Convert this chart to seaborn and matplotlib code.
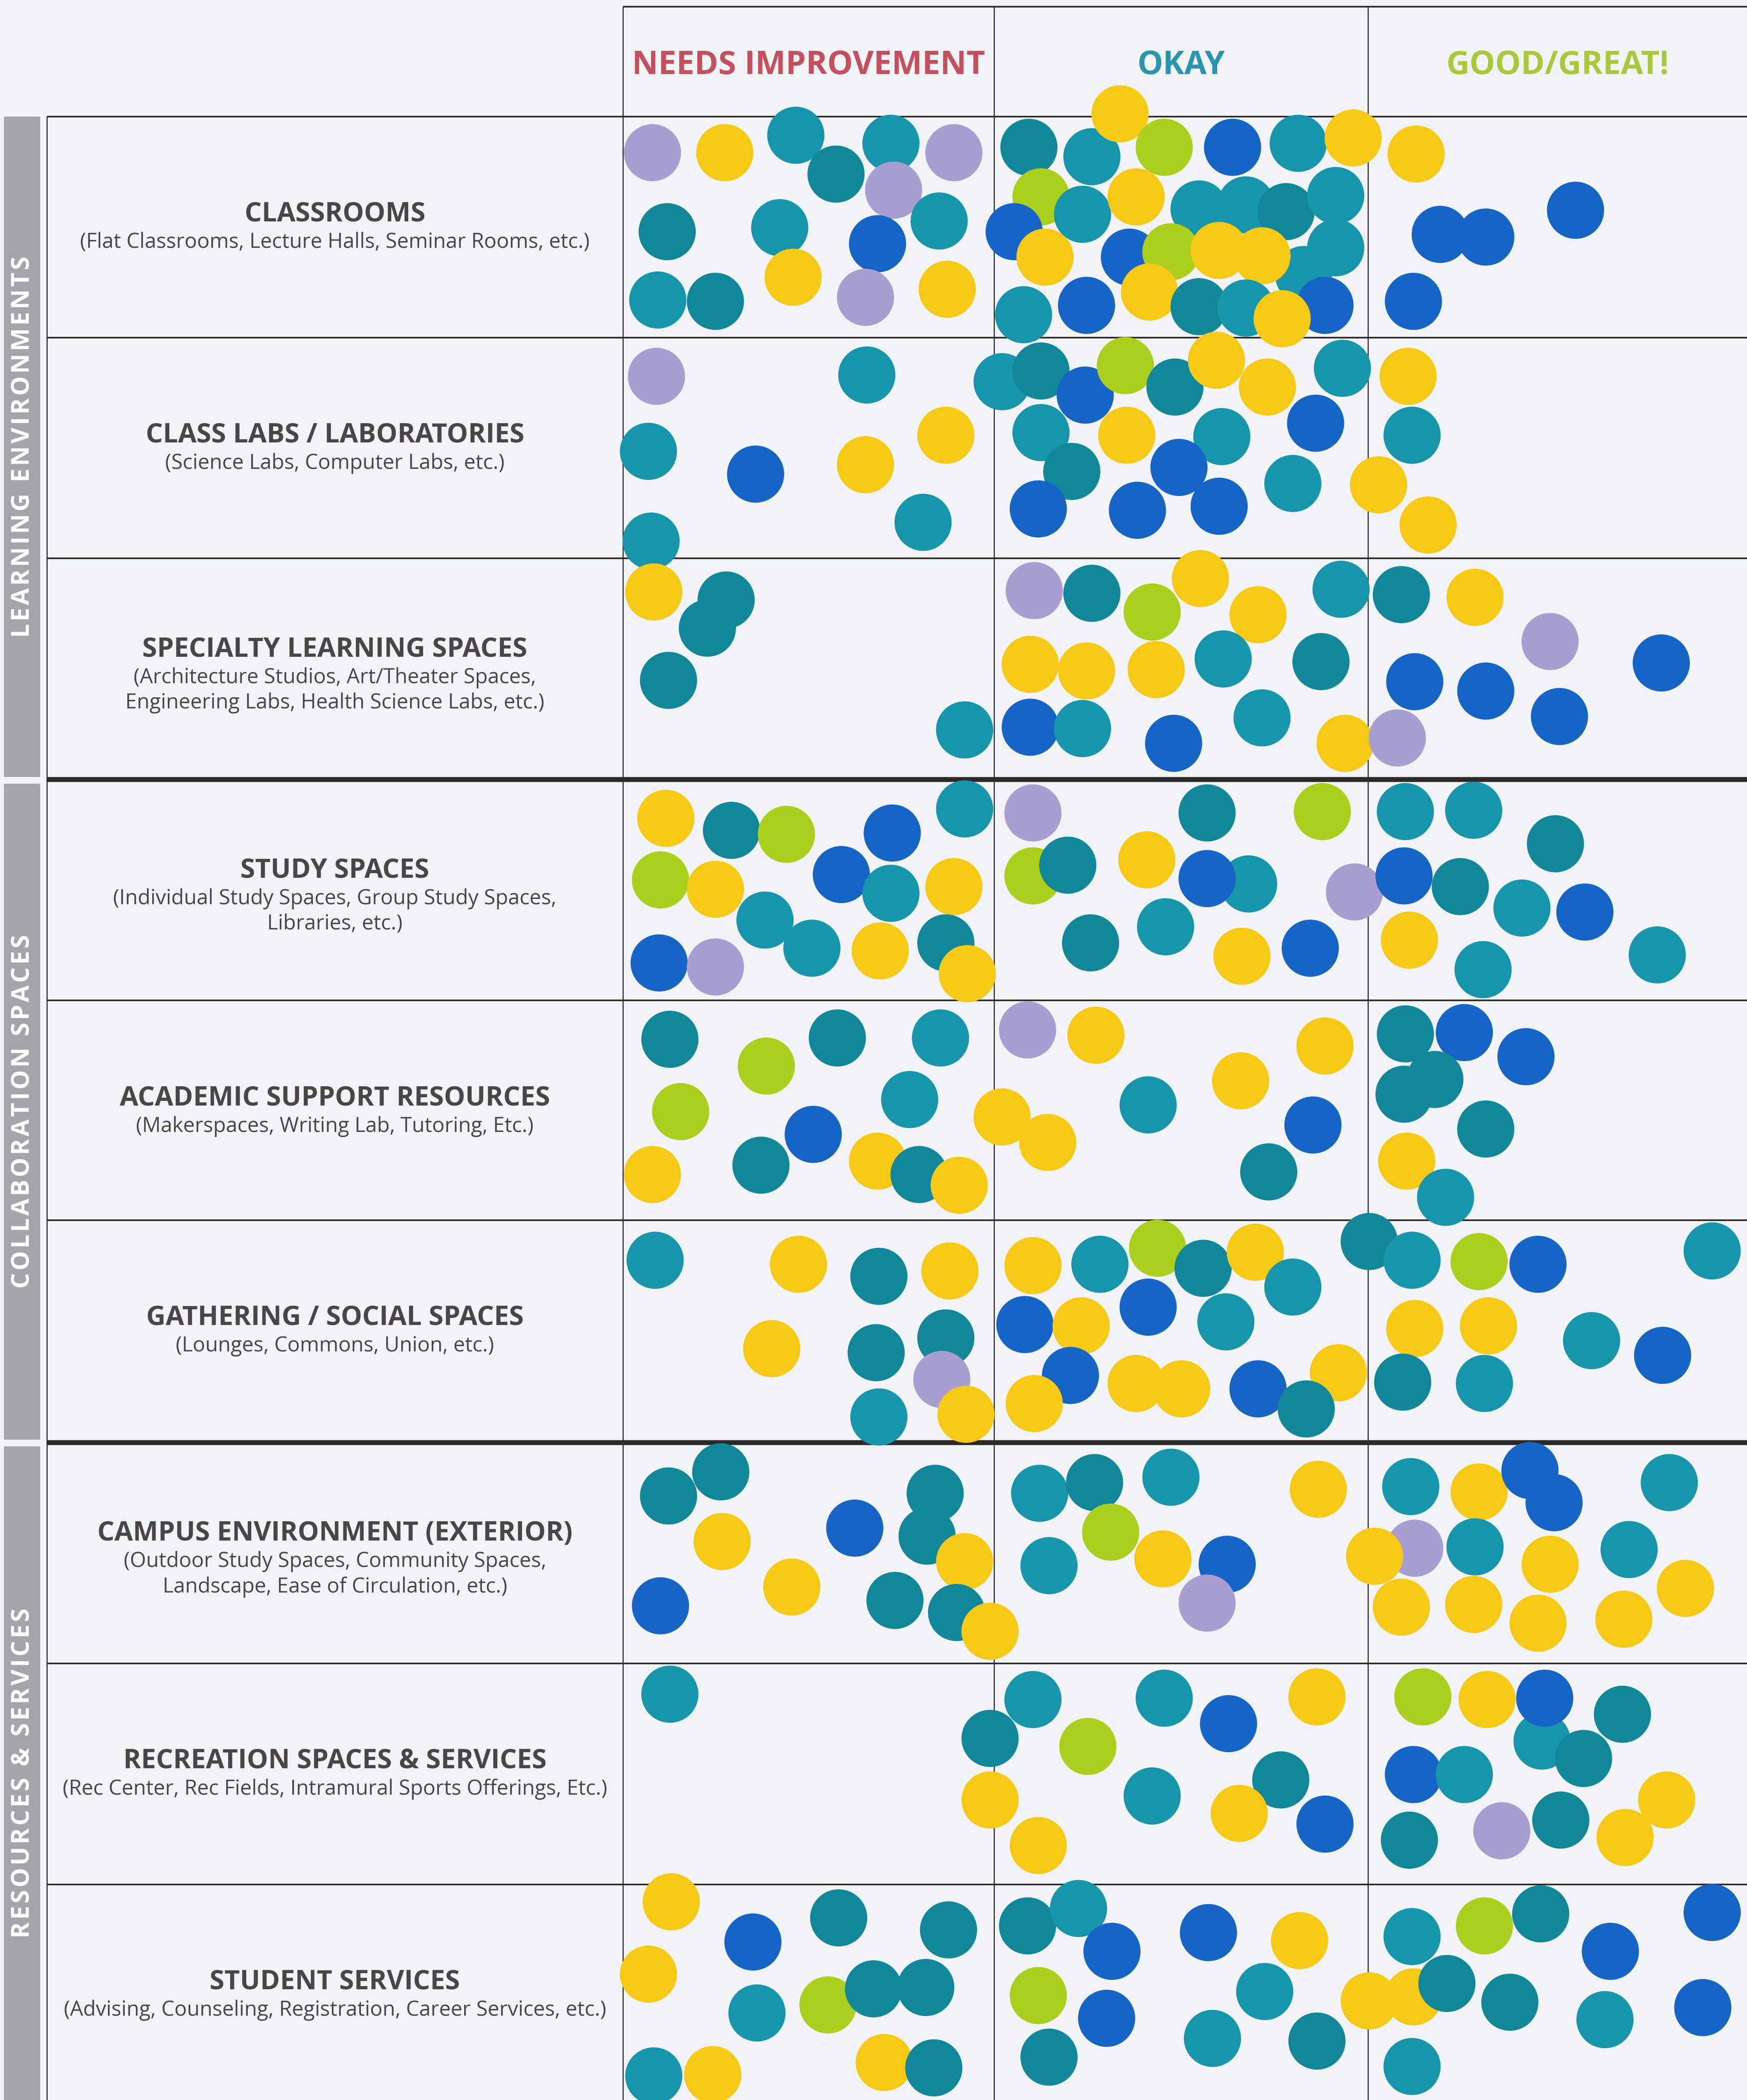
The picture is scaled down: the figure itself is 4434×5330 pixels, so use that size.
import pandas as pd
import matplotlib.pyplot as plt
import seaborn as sns

# Board coordinates follow the scanned poster (1304 x 1568 board units, y grows downward)
COLUMNS = ["NEEDS IMPROVEMENT", "OKAY", "GOOD/GREAT!"]
COLUMN_COLORS = ["#C4505F", "#2A95AE", "#A9C93D"]

ROW_TITLES = [
    "CLASSROOMS", "CLASS LABS / LABORATORIES", "SPECIALTY LEARNING SPACES",
    "STUDY SPACES", "ACADEMIC SUPPORT RESOURCES", "GATHERING / SOCIAL SPACES",
    "CAMPUS ENVIRONMENT (EXTERIOR)", "RECREATION SPACES & SERVICES", "STUDENT SERVICES",
]
ROW_SUBTITLES = [
    ["(Flat Classrooms, Lecture Halls, Seminar Rooms, etc.)"],
    ["(Science Labs, Computer Labs, etc.)"],
    ["(Architecture Studios, Art/Theater Spaces,", "Engineering Labs, Health Science Labs, etc.)"],
    ["(Individual Study Spaces, Group Study Spaces,", "Libraries, etc.)"],
    ["(Makerspaces, Writing Lab, Tutoring, Etc.)"],
    ["(Lounges, Commons, Union, etc.)"],
    ["(Outdoor Study Spaces, Community Spaces,", "Landscape, Ease of Circulation, etc.)"],
    ["(Rec Center, Rec Fields, Intramural Sports Offerings, Etc.)"],
    ["(Advising, Counseling, Registration, Career Services, etc.)"],
]
GROUPS = ["LEARNING ENVIRONMENTS", "COLLABORATION SPACES", "RESOURCES & SERVICES"]

# sticker colours
PALETTE = {
    "purple": "#A99ED2",
    "yellow": "#F6C916",
    "teal": "#1795AB",
    "dteal": "#12879A",
    "blue": "#1664C6",
    "lime": "#ABCF1D",
}

# dot stickers, per row: (colour, x, y) in board units
CLASSROOMS = [
    ("purple", 487, 114), ("yellow", 541, 114), ("teal", 594, 101), ("dteal", 624, 130),
    ("teal", 665, 107), ("purple", 712, 114), ("purple", 667, 142), ("dteal", 498, 173),
    ("teal", 582, 170), ("blue", 655, 182), ("teal", 701, 165), ("teal", 491, 224),
    ("dteal", 534, 225), ("yellow", 592, 207), ("purple", 646, 222), ("yellow", 707, 216),
    ("dteal", 768, 110), ("teal", 815, 117), ("yellow", 836, 85), ("lime", 869, 110),
    ("blue", 920, 110), ("teal", 969, 107), ("yellow", 1010, 103), ("lime", 777, 147),
    ("teal", 808, 160), ("yellow", 848, 147), ("teal", 895, 156), ("teal", 930, 153),
    ("dteal", 960, 158), ("teal", 997, 146), ("blue", 757, 173), ("yellow", 780, 192),
    ("blue", 843, 192), ("lime", 874, 188), ("yellow", 910, 187), ("teal", 973, 205),
    ("yellow", 942, 191), ("teal", 997, 185), ("teal", 764, 235), ("blue", 811, 228),
    ("yellow", 858, 218), ("dteal", 895, 229), ("teal", 930, 230), ("blue", 989, 228),
    ("yellow", 957, 238),
    ("yellow", 1057, 115), ("blue", 1075, 175), ("blue", 1109, 177), ("blue", 1176, 157),
    ("blue", 1055, 225),
]
CLASS_LABS = [
    ("purple", 490, 281), ("teal", 647, 280), ("teal", 484, 337), ("blue", 564, 354),
    ("yellow", 646, 347), ("yellow", 706, 325), ("teal", 486, 404), ("teal", 689, 390),
    ("teal", 748, 285), ("dteal", 777, 277), ("blue", 810, 295), ("lime", 840, 273),
    ("dteal", 877, 289), ("yellow", 908, 269), ("yellow", 946, 289), ("teal", 1002, 275),
    ("teal", 777, 323), ("yellow", 841, 325), ("teal", 912, 326), ("blue", 982, 316),
    ("dteal", 800, 352), ("blue", 880, 349), ("teal", 965, 361), ("blue", 775, 380),
    ("blue", 849, 381), ("blue", 910, 378), ("yellow", 1029, 362),
    ("yellow", 1051, 281), ("teal", 1054, 325), ("yellow", 1066, 392),
]
SPECIALTY = [
    ("yellow", 488, 442), ("dteal", 542, 448), ("dteal", 528, 469), ("dteal", 499, 508),
    ("teal", 720, 545),
    ("purple", 772, 441), ("dteal", 815, 443), ("lime", 860, 457), ("yellow", 896, 432),
    ("yellow", 939, 459), ("teal", 1001, 440), ("yellow", 769, 496), ("yellow", 811, 501),
    ("yellow", 863, 500), ("teal", 913, 492), ("dteal", 986, 494), ("blue", 769, 543),
    ("teal", 808, 544), ("blue", 876, 555), ("teal", 942, 536), ("yellow", 1004, 555),
    ("purple", 1043, 551),
    ("dteal", 1046, 444), ("yellow", 1101, 446), ("purple", 1157, 479), ("blue", 1056, 509),
    ("blue", 1109, 516), ("blue", 1240, 495), ("blue", 1164, 535),
]
STUDY = [
    ("yellow", 497, 611), ("dteal", 546, 620), ("lime", 587, 623), ("blue", 666, 622),
    ("teal", 720, 604), ("lime", 493, 657), ("yellow", 534, 664), ("blue", 628, 653),
    ("teal", 665, 667), ("yellow", 712, 662), ("teal", 571, 687), ("teal", 606, 708),
    ("yellow", 657, 710), ("dteal", 706, 704), ("blue", 492, 719), ("purple", 534, 722),
    ("yellow", 722, 727),
    ("purple", 771, 607), ("dteal", 901, 607), ("lime", 987, 606), ("lime", 771, 654),
    ("dteal", 797, 646), ("yellow", 856, 642), ("teal", 932, 660), ("blue", 901, 656),
    ("purple", 1011, 666), ("dteal", 814, 704), ("teal", 870, 692), ("yellow", 927, 714),
    ("blue", 978, 708),
    ("teal", 1049, 606), ("teal", 1100, 605), ("dteal", 1161, 630), ("blue", 1048, 654),
    ("dteal", 1090, 662), ("teal", 1136, 678), ("blue", 1183, 681), ("yellow", 1052, 702),
    ("teal", 1107, 724), ("teal", 1237, 713),
]
ACADEMIC = [
    ("dteal", 500, 776), ("lime", 572, 796), ("dteal", 625, 775), ("teal", 702, 775),
    ("lime", 508, 830), ("teal", 679, 821), ("blue", 607, 847), ("yellow", 487, 877),
    ("dteal", 568, 870), ("yellow", 655, 867), ("dteal", 686, 877), ("yellow", 716, 885),
    ("purple", 767, 769), ("yellow", 818, 773), ("yellow", 989, 781), ("yellow", 926, 807),
    ("teal", 857, 825), ("yellow", 748, 834), ("yellow", 782, 853), ("blue", 980, 840),
    ("dteal", 947, 875),
    ("dteal", 1049, 772), ("blue", 1093, 771), ("blue", 1139, 789), ("dteal", 1048, 817),
    ("dteal", 1071, 806), ("dteal", 1109, 843), ("yellow", 1050, 867), ("teal", 1079, 894),
]
GATHERING = [
    ("teal", 489, 941), ("yellow", 596, 944), ("dteal", 656, 953), ("yellow", 709, 949),
    ("yellow", 576, 1007), ("dteal", 654, 1010), ("dteal", 706, 999), ("purple", 703, 1030),
    ("teal", 656, 1058), ("yellow", 721, 1056),
    ("yellow", 771, 945), ("teal", 821, 944), ("lime", 864, 932), ("dteal", 898, 947),
    ("yellow", 937, 935), ("teal", 965, 961), ("blue", 765, 989), ("yellow", 807, 990),
    ("blue", 857, 976), ("teal", 915, 987), ("blue", 799, 1027), ("yellow", 848, 1033),
    ("yellow", 882, 1037), ("blue", 939, 1037), ("yellow", 999, 1025), ("dteal", 975, 1052),
    ("yellow", 772, 1048),
    ("dteal", 1022, 927), ("teal", 1054, 941), ("lime", 1104, 942), ("blue", 1148, 944),
    ("teal", 1278, 934), ("yellow", 1056, 992), ("yellow", 1111, 990), ("teal", 1188, 1001),
    ("blue", 1241, 1012), ("dteal", 1047, 1032), ("teal", 1108, 1033),
]
CAMPUS = [
    ("dteal", 538, 1099), ("dteal", 499, 1117), ("yellow", 539, 1151), ("blue", 638, 1141),
    ("dteal", 698, 1115), ("dteal", 692, 1147), ("yellow", 720, 1166), ("yellow", 591, 1185),
    ("blue", 493, 1199), ("dteal", 668, 1195), ("dteal", 714, 1204), ("yellow", 739, 1218),
    ("teal", 776, 1115), ("dteal", 817, 1107), ("teal", 874, 1103), ("yellow", 984, 1112),
    ("lime", 829, 1144), ("yellow", 868, 1164), ("blue", 916, 1168), ("teal", 783, 1169),
    ("purple", 901, 1197),
    ("teal", 1053, 1110), ("yellow", 1104, 1114), ("blue", 1142, 1098), ("blue", 1160, 1122),
    ("teal", 1246, 1107), ("purple", 1056, 1156), ("yellow", 1026, 1162), ("teal", 1101, 1155),
    ("yellow", 1157, 1168), ("teal", 1216, 1157), ("yellow", 1258, 1186), ("yellow", 1046, 1200),
    ("yellow", 1100, 1198), ("yellow", 1148, 1212), ("yellow", 1212, 1209),
]
RECREATION = [
    ("teal", 500, 1265), ("dteal", 739, 1298), ("yellow", 739, 1344),
    ("teal", 771, 1269), ("teal", 869, 1268), ("blue", 917, 1287), ("yellow", 983, 1267),
    ("lime", 812, 1304), ("teal", 860, 1341), ("dteal", 956, 1329), ("yellow", 925, 1354),
    ("blue", 989, 1362), ("yellow", 775, 1378),
    ("lime", 1062, 1267), ("yellow", 1110, 1269), ("dteal", 1211, 1280), ("teal", 1151, 1300),
    ("blue", 1153, 1268), ("dteal", 1182, 1313), ("blue", 1055, 1325), ("teal", 1093, 1325),
    ("purple", 1121, 1367), ("dteal", 1165, 1359), ("yellow", 1244, 1344), ("yellow", 1213, 1372),
    ("dteal", 1052, 1374),
]
STUDENT = [
    ("yellow", 501, 1420), ("blue", 562, 1450), ("dteal", 626, 1432), ("dteal", 708, 1441),
    ("yellow", 484, 1474), ("teal", 565, 1503), ("lime", 618, 1497), ("dteal", 652, 1485),
    ("dteal", 691, 1484), ("teal", 488, 1550), ("yellow", 532, 1549), ("yellow", 660, 1540),
    ("dteal", 697, 1544),
    ("dteal", 767, 1438), ("teal", 805, 1425), ("blue", 830, 1457), ("blue", 902, 1443),
    ("yellow", 970, 1449), ("lime", 775, 1490), ("blue", 826, 1507), ("teal", 944, 1487),
    ("dteal", 783, 1536), ("teal", 905, 1522), ("dteal", 983, 1524), ("yellow", 1022, 1494),
    ("teal", 1054, 1446), ("lime", 1108, 1438), ("dteal", 1150, 1429), ("blue", 1278, 1428),
    ("yellow", 1055, 1491), ("dteal", 1080, 1481), ("blue", 1202, 1457), ("dteal", 1127, 1495),
    ("teal", 1198, 1508), ("blue", 1271, 1499), ("teal", 1054, 1543),
]
ROW_DOTS = [CLASSROOMS, CLASS_LABS, SPECIALTY, STUDY, ACADEMIC, GATHERING, CAMPUS,
            RECREATION, STUDENT]

# ---------------------------------------------------------
# layout of the board
# ---------------------------------------------------------
BOARD_W, BOARD_H = 1304, 1568
COL_EDGES = [465, 742, 1021, 1304]
ROW_EDGES = [87, 252, 417, 582, 747, 911, 1077, 1242, 1407, 1568]
LABEL_LEFT = 35
THICK_ROWS = [582, 1077]
BG = "#F2F3F7"
INK = "#4A4647"
LINE = "#2E2A29"

sns.set_theme(style="white")
plt.rcParams["font.family"] = ["Open Sans", "DejaVu Sans"]

fig = plt.figure(figsize=(44.34, 53.30), dpi=100, facecolor=BG)
ax = fig.add_axes([0, 0, 1, 1])
ax.set_facecolor(BG)

# grid
ax.hlines(5, COL_EDGES[0], BOARD_W, color=LINE, lw=3, zorder=1)
for y in ROW_EDGES[:-1]:
    lw = 9 if y in THICK_ROWS else 3
    ax.hlines(y, LABEL_LEFT, BOARD_W, color=LINE, lw=lw, zorder=1)
ax.vlines(LABEL_LEFT, ROW_EDGES[0], BOARD_H, color=LINE, lw=2, zorder=1)
for x in COL_EDGES[:-1]:
    ax.vlines(x, 5, BOARD_H, color=LINE, lw=2, zorder=1)

# group side bars (letter-spaced white labels)
group_spans = [(87, 580), (585, 1075), (1080, 1568)]
for name, (y0, y1) in zip(GROUPS, group_spans):
    ax.fill_between([3, 30], y0, y1, color="#A4A5AB", lw=0, zorder=1)
    ax.text(17, (y0 + y1) / 2, "\u200a".join(name), rotation=90, ha="center", va="center",
            color="white", fontsize=45, fontweight="bold", zorder=2)

# column headers
for i, (name, col) in enumerate(zip(COLUMNS, COLUMN_COLORS)):
    cx = (COL_EDGES[i] + COL_EDGES[i + 1]) / 2
    ax.text(cx, 49, name, ha="center", va="center", color=col,
            fontsize=59, fontweight="bold", zorder=2)

# row labels
label_cx = (LABEL_LEFT + COL_EDGES[0]) / 2
for i, (title, subs) in enumerate(zip(ROW_TITLES, ROW_SUBTITLES)):
    top = ROW_EDGES[i] + (73 if len(subs) == 1 else 68)
    ax.text(label_cx, top, title, ha="center", va="center", color=INK,
            fontsize=49, fontweight="bold", zorder=2)
    for j, line in enumerate(subs):
        ax.text(label_cx, top + 21 + 19 * j, line, ha="center", va="center",
                color=INK, fontsize=38, zorder=2)

# dot stickers
dots = pd.DataFrame(
    [(ROW_TITLES[r], c, x, y) for r, row in enumerate(ROW_DOTS) for (c, x, y) in row],
    columns=["row", "color", "x", "y"],
)
sns.scatterplot(data=dots, x="x", y="y", hue="color", palette=PALETTE, s=10900,
                linewidth=0, legend=False, ax=ax, zorder=3)
ax.set_xlim(0, BOARD_W)
ax.set_ylim(BOARD_H, 0)
ax.axis("off")

fig.savefig("out.png", dpi=100, facecolor=BG)
